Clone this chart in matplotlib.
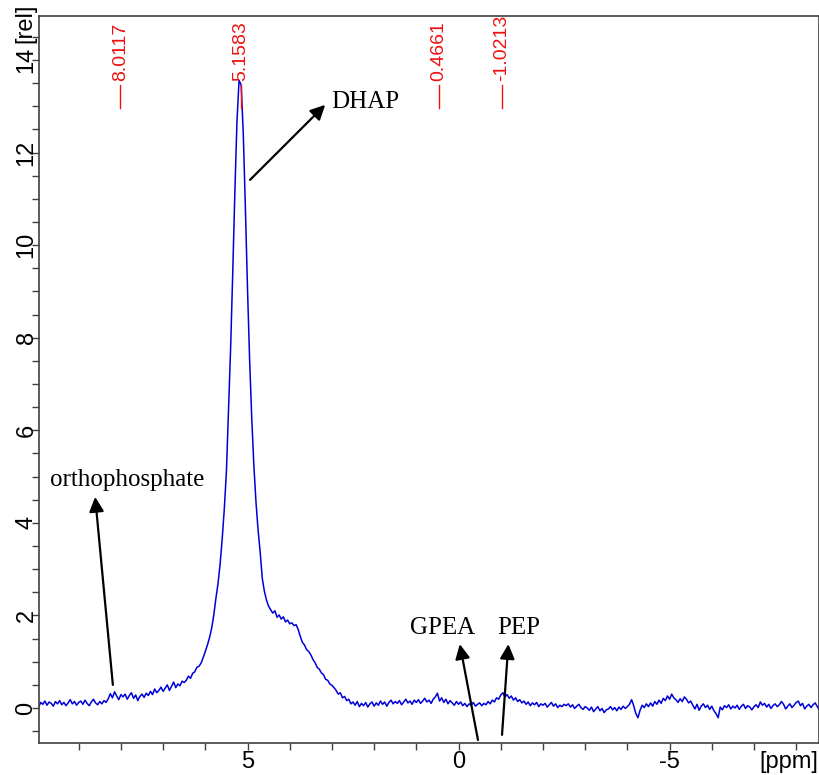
import numpy as np
import matplotlib
matplotlib.use('Agg')
import matplotlib.pyplot as plt
from matplotlib.ticker import MultipleLocator

plt.rcParams['axes.unicode_minus'] = False

# Spectrum sampled every 0.05 ppm from 9.95 down to -8.55
ppm = np.linspace(9.95, -8.55, 371)
intensity = [
    0.02, 0.12, 0.08, 0.15, 0.06, 0.13, 0.10, 0.04, 0.14, 0.09,   # 9.95 .. 9.50
    0.16, 0.07, 0.12, 0.05, 0.11, 0.18, 0.09, 0.14, 0.06, 0.12,   # 9.45 .. 9.00
    0.15, 0.08, 0.17, 0.10, 0.05, 0.13, 0.19, 0.11, 0.07, 0.14,   # 8.95 .. 8.50
    0.09, 0.16, 0.12, 0.20, 0.31, 0.22, 0.35, 0.26, 0.18, 0.29,   # 8.45 .. 8.00
    0.24, 0.30, 0.19, 0.27, 0.33, 0.21, 0.28, 0.16, 0.25, 0.30,   # 7.95 .. 7.50
    0.23, 0.32, 0.27, 0.36, 0.29, 0.41, 0.33, 0.38, 0.45, 0.36,   # 7.45 .. 7.00
    0.43, 0.50, 0.38, 0.47, 0.56, 0.44, 0.52, 0.48, 0.58, 0.55,   # 6.95 .. 6.50
    0.60, 0.69, 0.64, 0.75, 0.78, 0.88, 0.90, 0.97, 1.09, 1.22,   # 6.45 .. 6.00
    1.36, 1.52, 1.72, 2.00, 2.36, 2.68, 3.10, 3.65, 4.30, 5.10,   # 5.95 .. 5.50
    6.41, 7.78, 9.40, 11.13, 12.67, 13.56, 13.46, 12.40, 10.79, 9.06,  # 5.45 .. 5.00
    7.53, 6.27, 5.25, 4.46, 3.85, 3.37, 2.80, 2.52, 2.33, 2.20,   # 4.95 .. 4.50
    2.12, 2.05, 2.10, 1.96, 2.01, 1.92, 1.97, 1.86, 1.90, 1.82,   # 4.45 .. 4.00
    1.84, 1.78, 1.80, 1.70, 1.55, 1.42, 1.36, 1.26, 1.22, 1.15,   # 3.95 .. 3.50
    1.05, 0.98, 0.88, 0.84, 0.76, 0.72, 0.62, 0.60, 0.52, 0.49,   # 3.45 .. 3.00
    0.44, 0.38, 0.30, 0.33, 0.22, 0.25, 0.16, 0.19, 0.09, 0.13,   # 2.95 .. 2.50
    0.06, 0.14, 0.03, 0.10, 0.05, 0.12, 0.02, 0.09, 0.13, 0.04,   # 2.45 .. 2.00
    0.11, 0.06, 0.15, 0.08, 0.13, 0.04, 0.12, 0.17, 0.09, 0.14,   # 1.95 .. 1.50
    0.10, 0.16, 0.07, 0.13, 0.19, 0.11, 0.15, 0.08, 0.17, 0.12,   # 1.45 .. 1.00
    0.18, 0.10, 0.15, 0.21, 0.13, 0.17, 0.10, 0.19, 0.24, 0.32,   # 0.95 .. 0.50
    0.15, 0.22, 0.12, 0.19, 0.09, 0.16, 0.11, 0.06, 0.14, 0.08,   # 0.45 .. 0.00
    0.13, 0.05, 0.10, 0.03, 0.09, 0.06, 0.12, 0.04, 0.08, 0.11,   # -0.05 .. -0.50
    0.05, 0.10, 0.07, 0.14, 0.09, 0.17, 0.13, 0.22, 0.19, 0.28,   # -0.55 .. -1.00
    0.33, 0.24, 0.29, 0.21, 0.26, 0.17, 0.22, 0.14, 0.18, 0.11,   # -1.05 .. -1.50
    0.15, 0.08, 0.13, 0.05, 0.11, 0.07, 0.12, 0.03, 0.09, 0.06,   # -1.55 .. -2.00
    0.10, 0.02, 0.07, 0.12, 0.04, 0.09, 0.01, 0.06, 0.03, 0.08,   # -2.05 .. -2.50
    0.05, 0.09, 0.02, 0.07, -0.01, 0.04, 0.08, 0.01, -0.03, 0.03,  # -2.55 .. -3.00
    0.00, -0.05, 0.02, -0.08, -0.02, 0.03, -0.06, -0.01, -0.10, -0.04,  # -3.05 .. -3.50
    -0.02, 0.03, -0.04, 0.01, -0.06, 0.02, -0.03, 0.04, -0.01, 0.03,  # -3.55 .. -4.00
    0.08, 0.18, 0.05, -0.12, -0.21, -0.05, 0.06, 0.01, 0.09, 0.03,  # -4.05 .. -4.50
    0.11, 0.04, 0.14, 0.08, 0.17, 0.10, 0.21, 0.16, 0.26, 0.19,   # -4.55 .. -5.00
    0.30, 0.22, 0.18, 0.12, 0.20, 0.14, 0.24, 0.19, 0.11, 0.15,   # -5.05 .. -5.50
    0.06, -0.02, 0.08, -0.05, 0.04, 0.09, 0.01, 0.06, -0.03, 0.04,  # -5.55 .. -6.00
    -0.06, -0.12, -0.21, 0.02, -0.04, 0.05, 0.01, 0.07, -0.02, 0.04,  # -6.05 .. -6.50
    0.00, 0.06, -0.03, 0.04, 0.08, -0.01, 0.05, 0.02, -0.04, 0.03,  # -6.55 .. -7.00
    0.07, 0.01, 0.13, 0.06, 0.10, 0.02, 0.08, -0.01, 0.05, 0.09,   # -7.05 .. -7.50
    0.03, 0.07, 0.14, 0.08, -0.02, 0.04, 0.09, 0.01, 0.06, 0.12,   # -7.55 .. -8.00
    0.15, 0.05, 0.10, -0.02, 0.04, 0.08, 0.01, 0.07, 0.11, 0.03,   # -8.05 .. -8.50
    -0.05,                                                         # -8.55
]

# Peak picking labels
peak_ppm = [8.0117, 5.1583, 0.4661, -1.0213]
peak_text = ['8.0117', '5.1583', '0.4661', '-1.0213']

# Annotations: label, text position, arrow tail, arrow head
labels = ['DHAP', 'orthophosphate', 'GPEA', 'PEP']
label_pos = [(3.02, 13.1), (9.68, 4.93), (1.15, 1.73), (-0.91, 1.73)]
arrow_tail = [(4.94, 11.41), (8.19, 0.50), (-0.46, -0.69), (-1.03, -0.58)]
arrow_head = [(3.16, 13.03), (8.61, 4.56), (-0.03, 1.38), (-1.18, 1.38)]

fig = plt.figure(figsize=(8.2, 7.75), dpi=100)
ax = fig.add_axes([39 / 820, 1 - 743 / 775, 780 / 820, 727 / 775])

ax.plot(ppm, intensity, color='#0000d8', lw=1.1)

# peak markers in red
for p, t in zip(peak_ppm, peak_text):
    ax.plot([p, p], [12.96, 13.45], color='#ee1111', lw=1.0)
    ax.text(p, 13.55, t, rotation=90, color='#ee1111', ha='center', va='bottom',
            fontsize=14, family='Liberation Sans')

for lab, pos, tail, head in zip(labels, label_pos, arrow_tail, arrow_head):
    ax.annotate('', xy=head, xytext=tail,
                arrowprops=dict(arrowstyle='-|>', color='black', lw=1.6,
                                mutation_scale=22, shrinkA=0, shrinkB=0))
    ax.text(pos[0], pos[1], lab, ha='left', va='center', fontsize=18,
            family='Liberation Serif')

ax.set_xlim(9.94, -8.54)
ax.set_ylim(-0.756, 14.95)

ax.xaxis.set_major_locator(MultipleLocator(5))
ax.xaxis.set_minor_locator(MultipleLocator(1))
ax.yaxis.set_major_locator(MultipleLocator(2))
ax.yaxis.set_minor_locator(MultipleLocator(0.5))
ax.tick_params(which='both', direction='out', length=5, width=1, color='#404040')
ax.tick_params(axis='x', labelsize=17, pad=1)
ax.tick_params(axis='y', labelsize=17, pad=-4)
for lbl in ax.get_yticklabels():
    lbl.set_rotation(90)
    lbl.set_va('center')
for lbl in ax.get_xticklabels() + ax.get_yticklabels():
    lbl.set_family('Liberation Sans')

for s in ax.spines.values():
    s.set_color('#404040')
    s.set_linewidth(1.2)

fig.text(25 / 820, 1 - 23 / 775, '[rel]', rotation=90, ha='center', va='center',
         fontsize=17, family='Liberation Sans')
fig.text(818 / 820, 1 - 762 / 775, '[ppm]', ha='right', va='center',
         fontsize=17, family='Liberation Sans')

plt.savefig('out.png')
